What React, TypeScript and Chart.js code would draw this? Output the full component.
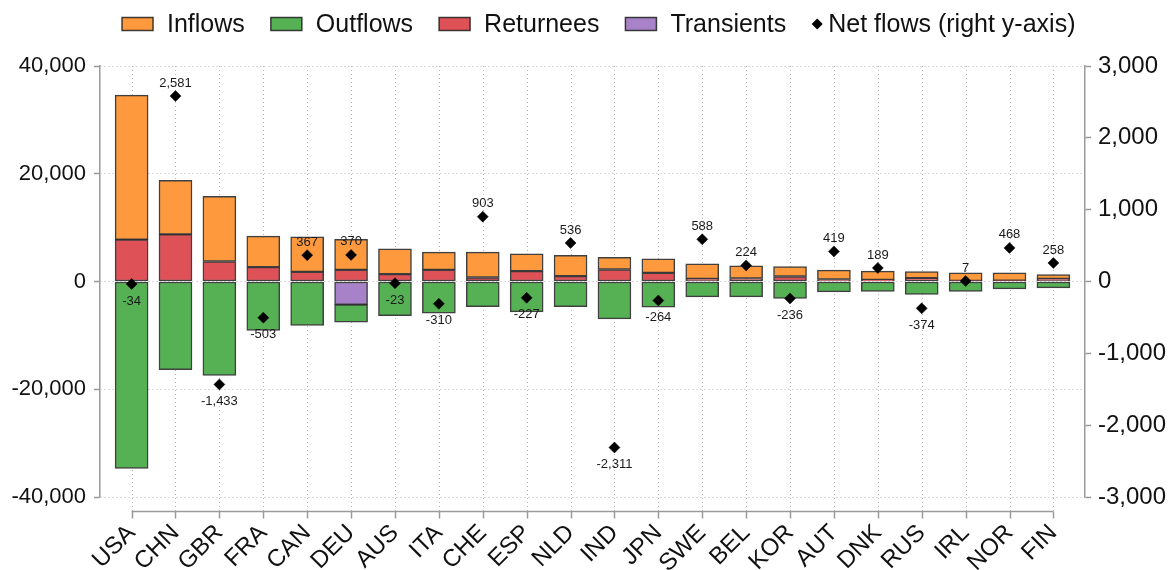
import React, { useEffect, useRef } from 'react';
import { Chart, registerables } from 'chart.js';

Chart.register(...registerables);

const countries = ['USA', 'CHN', 'GBR', 'FRA', 'CAN', 'DEU', 'AUS', 'ITA', 'CHE', 'ESP', 'NLD', 'IND', 'JPN', 'SWE', 'BEL', 'KOR', 'AUT', 'DNK', 'RUS', 'IRL', 'NOR', 'FIN'];
const inflows = [26840, 10050, 12090, 5760, 6510, 5640, 4720, 3290, 4710, 3230, 3850, 2240, 2610, 2790, 2360, 1860, 1730, 1610, 1240, 1490, 1460, 800];
const returnees = [7760, 8740, 3720, 2670, 1800, 2170, 1360, 2170, 750, 1920, 990, 2230, 1610, 500, 560, 930, 370, 310, 620, 120, 150, 500];
const outflows = [-34700, -16370, -17430, -9060, -8130, -3290, -6330, -5890, -4650, -5640, -4650, -6940, -4780, -2850, -2850, -3160, -1920, -1860, -2420, -1860, -1360, -1180];
const transients = [null, null, null, null, null, -4280, null, null, null, null, null, null, null, null, null, null, null, null, null, null, null, null];
const netFlows = [-34, 2581, -1433, -503, 367, 370, -23, -310, 903, -227, 536, -2311, -264, 588, 224, -236, 419, 189, -374, 7, 468, 258];

const legendLabels = ['Inflows', 'Outflows', 'Returnees', 'Transients'];
const netLabel = 'Net flows (right y-axis)';

const FONT = 'Arial, "Liberation Sans", sans-serif';
const AXIS = '#9a9a9a';
const GRID = '#b8b8b8';
const TEXT = '#111';
const EDGE = 'rgba(30,30,30,0.85)';
const C_IN = '#FE9A3D';
const C_OUT = '#55B153';
const C_RET = '#DE5157';
const C_TRA = '#A882C8';
const legendColors = [C_IN, C_OUT, C_RET, C_TRA];
const NET_INDEX = 4;

const fmt = (v: number) => Number(v).toLocaleString('en-US');

function diamond(ctx: CanvasRenderingContext2D, cx: number, cy: number, r: number) {
  ctx.beginPath();
  ctx.moveTo(cx, cy - r);
  ctx.lineTo(cx + r, cy);
  ctx.lineTo(cx, cy + r);
  ctx.lineTo(cx - r, cy);
  ctx.closePath();
  ctx.fill();
}

const stataDecor = {
  id: 'stataDecor',
  beforeDatasetsDraw(chart: any) {
    const { ctx, chartArea, scales } = chart;
    const x = scales.x;
    ctx.save();
    ctx.strokeStyle = GRID;
    ctx.lineWidth = 1;
    ctx.setLineDash([1, 3]);
    countries.forEach((_, i) => {
      const px = Math.round(x.getPixelForValue(i)) + 0.5;
      ctx.beginPath();
      ctx.moveTo(px, chartArea.top);
      ctx.lineTo(px, chartArea.bottom + 14);
      ctx.stroke();
    });
    ctx.restore();
  },
  afterDatasetsDraw(chart: any) {
    const { ctx } = chart;
    const meta = chart.getDatasetMeta(NET_INDEX);
    ctx.save();
    ctx.font = `13px ${FONT}`;
    ctx.fillStyle = '#1a1a1a';
    ctx.textAlign = 'center';
    ctx.textBaseline = 'middle';
    meta.data.forEach((pt: any, i: number) => {
      const v = netFlows[i];
      const yy = v >= 0 ? pt.y - 13 : pt.y + 17;
      ctx.fillText(fmt(v), pt.x, yy);
    });
    ctx.restore();
  },
  afterDraw(chart: any) {
    const { ctx, chartArea, scales } = chart;
    const x = scales.x;
    const y0 = Math.round(chartArea.bottom + 14) + 0.5;
    ctx.save();
    // x axis line and ticks (offset below the plot region)
    ctx.strokeStyle = AXIS;
    ctx.lineWidth = 1.5;
    ctx.setLineDash([]);
    const xa = x.getPixelForValue(0);
    const xb = x.getPixelForValue(countries.length - 1);
    ctx.beginPath();
    ctx.moveTo(xa, y0);
    ctx.lineTo(xb, y0);
    ctx.stroke();
    countries.forEach((_, i) => {
      const px = Math.round(x.getPixelForValue(i)) + 0.5;
      ctx.beginPath();
      ctx.moveTo(px, y0);
      ctx.lineTo(px, y0 + 7);
      ctx.stroke();
    });

    // legend
    const boxW = 31;
    const boxH = 13;
    const gap = 14;
    const pad = 26;
    const cy = 24;
    ctx.font = `25px ${FONT}`;
    const widths = legendLabels.map((l) => boxW + gap + ctx.measureText(l).width);
    const netW = 16 + ctx.measureText(netLabel).width;
    const total = widths.reduce((a, b) => a + b, 0) + netW + pad * legendLabels.length;
    let cx = 598.75 - total / 2;
    ctx.textBaseline = 'middle';
    ctx.textAlign = 'left';
    legendLabels.forEach((l, i) => {
      ctx.fillStyle = legendColors[i];
      ctx.fillRect(cx, cy - boxH / 2, boxW, boxH);
      ctx.strokeStyle = EDGE;
      ctx.lineWidth = 1.5;
      ctx.strokeRect(cx, cy - boxH / 2, boxW, boxH);
      ctx.fillStyle = TEXT;
      ctx.fillText(l, cx + boxW + gap, cy + 1);
      cx += widths[i] + pad;
    });
    ctx.fillStyle = '#000';
    diamond(ctx, cx + 5, cy, 5.5);
    ctx.fillStyle = TEXT;
    ctx.fillText(netLabel, cx + 16, cy + 1);
    ctx.restore();
  },
};

export default function App() {
  const ref = useRef<HTMLCanvasElement>(null);
  useEffect(() => {
    document.body.style.margin = '0';
    Chart.defaults.font.family = FONT;
    const barCommon = {
      type: 'bar' as const,
      yAxisID: 'y',
      borderColor: EDGE,
      borderWidth: 1.5,
      borderSkipped: false,
      barThickness: 33,
      stack: 'flows',
    };
    const chart = new Chart(ref.current as HTMLCanvasElement, {
      type: 'bar',
      data: {
        labels: countries.map((_, i) => i),
        datasets: [
          { ...barCommon, label: 'Returnees', data: returnees, backgroundColor: C_RET },
          { ...barCommon, label: 'Inflows', data: inflows, backgroundColor: C_IN },
          { ...barCommon, label: 'Transients', data: transients, backgroundColor: C_TRA },
          { ...barCommon, label: 'Outflows', data: outflows, backgroundColor: C_OUT },
          {
            type: 'line',
            label: netLabel,
            data: netFlows,
            yAxisID: 'y1',
            showLine: false,
            order: -1,
            pointStyle: 'rectRot',
            pointRadius: 5.5,
            pointBackgroundColor: '#000',
            pointBorderColor: '#000',
            pointBorderWidth: 0.5,
            backgroundColor: 'rgba(0,0,0,0)',
            borderColor: 'rgba(0,0,0,0)',
            borderWidth: 0,
          } as any,
        ],
      },
      options: {
        animation: false,
        responsive: false,
        devicePixelRatio: 1,
        layout: { padding: { top: 66, left: 0, right: 0, bottom: 0 } },
        plugins: {
          tooltip: { enabled: false },
          legend: { display: false },
        },
        scales: {
          x: {
            type: 'linear',
            stacked: true,
            offset: false,
            min: -0.72,
            max: countries.length - 1 + 0.72,
            grid: { display: false, drawTicks: false },
            border: { display: false },
            afterBuildTicks: (s: any) => {
              s.ticks = countries.map((_, i) => ({ value: i }));
            },
            afterFit: (s: any) => {
              s.height = 73;
            },
            ticks: {
              autoSkip: false,
              maxRotation: 45,
              minRotation: 45,
              padding: 22,
              color: TEXT,
              font: { size: 24, family: FONT },
              callback: (v: any) => countries[v] ?? '',
            },
          },
          y: {
            type: 'linear',
            position: 'left',
            stacked: true,
            min: -40000,
            max: 40000,
            afterFit: (s: any) => {
              s.width = 100;
            },
            ticks: {
              stepSize: 20000,
              padding: 8,
              color: TEXT,
              font: { size: 22, family: FONT },
              callback: (v: any) => fmt(v),
            },
            grid: { color: GRID, lineWidth: 1, tickColor: AXIS, tickLength: 6, tickWidth: 1.5 },
            border: { display: true, color: AXIS, width: 1.5, dash: [1, 3] },
          },
          y1: {
            type: 'linear',
            position: 'right',
            min: -3000,
            max: 3000,
            afterFit: (s: any) => {
              s.width = 90;
            },
            ticks: {
              stepSize: 1000,
              padding: 7,
              color: TEXT,
              font: { size: 24, family: FONT },
              callback: (v: any) => fmt(v),
            },
            grid: { drawOnChartArea: false, tickColor: AXIS, tickLength: 6, tickWidth: 1.5 },
            border: { display: true, color: AXIS, width: 1.5 },
          },
        },
      } as any,
      plugins: [stataDecor],
    });
    return () => chart.destroy();
  }, []);
  return (
    <div style={{ width: 1175, height: 570 }}>
      <canvas ref={ref} width={1175} height={570} style={{ display: 'block' }} />
    </div>
  );
}
